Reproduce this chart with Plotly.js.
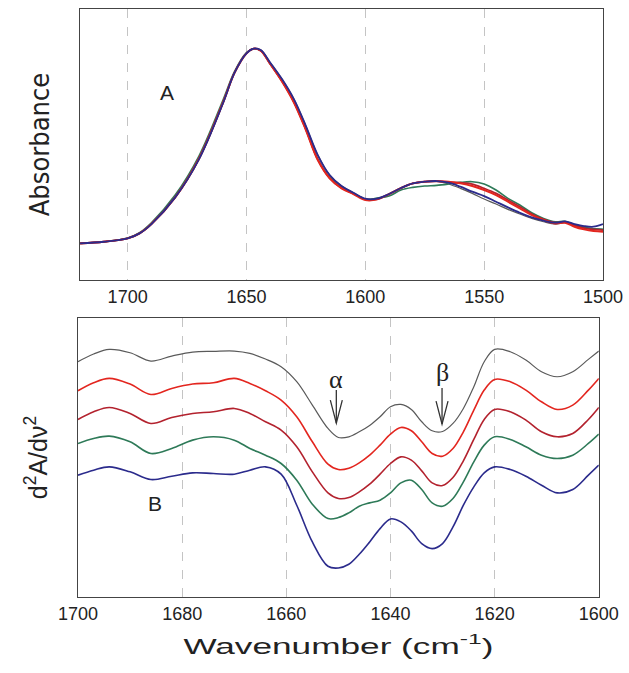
<!DOCTYPE html>
<html>
<head>
<meta charset="utf-8">
<script src="https://cdn.plot.ly/plotly-3.0.1.min.js"></script>
<style>
html,body{margin:0;padding:0;background:#fff;}
#chart{width:629px;height:673px;}
#chart .x2title{transform-box:fill-box;transform-origin:50% 50%;transform:scaleX(1.6);}
</style>
</head>
<body>
<div id="chart"></div>
<script>
// ---- Panel A: absorbance spectra (arbitrary units) ----
var wavenumberA = [1720,1710,1700,1695,1690,1680,1670,1660,1655,1650,1647,1644,1640,1635,1630,1625,1620,1615,1610,1605,1600,1595,1590,1585,1580,1575,1570,1565,1560,1555,1550,1545,1540,1535,1530,1525,1520,1516,1512,1508,1504,1500];
var absGray    = [1.10,1.15,1.25,1.40,1.68,2.48,3.62,5.28,6.22,6.80,6.94,6.90,6.52,6.02,5.42,4.62,3.75,3.15,2.82,2.62,2.44,2.44,2.58,2.76,2.90,2.95,2.97,2.88,2.75,2.60,2.43,2.28,2.12,1.98,1.85,1.75,1.68,1.72,1.64,1.58,1.54,1.52];
var absRed     = [1.10,1.15,1.25,1.40,1.68,2.48,3.64,5.30,6.22,6.80,6.94,6.88,6.48,5.95,5.32,4.50,3.60,3.05,2.75,2.58,2.40,2.42,2.58,2.76,2.90,2.95,2.97,2.95,2.90,2.82,2.70,2.55,2.35,2.15,1.95,1.80,1.70,1.72,1.60,1.52,1.47,1.45];
var absDarkRed = [1.10,1.15,1.25,1.40,1.68,2.48,3.64,5.30,6.22,6.80,6.94,6.88,6.48,5.96,5.34,4.52,3.62,3.06,2.76,2.59,2.42,2.43,2.58,2.76,2.90,2.95,2.96,2.93,2.92,2.88,2.75,2.60,2.40,2.20,1.98,1.82,1.72,1.74,1.64,1.56,1.52,1.50];
var absGreen   = [1.10,1.15,1.26,1.42,1.72,2.55,3.72,5.38,6.26,6.82,6.94,6.88,6.48,5.96,5.34,4.52,3.62,3.08,2.78,2.60,2.42,2.46,2.52,2.70,2.78,2.82,2.84,2.88,2.93,2.95,2.88,2.70,2.45,2.25,2.02,1.85,1.75,1.76,1.66,1.58,1.54,1.52];
var absBlue    = [1.10,1.15,1.25,1.40,1.68,2.48,3.62,5.28,6.22,6.80,6.94,6.90,6.52,6.02,5.42,4.62,3.75,3.15,2.82,2.62,2.44,2.44,2.58,2.76,2.90,2.95,2.97,2.92,2.80,2.65,2.52,2.35,2.18,2.02,1.88,1.78,1.72,1.76,1.68,1.62,1.60,1.68];

// ---- Panel B: second-derivative spectra (offset, arbitrary units) ----
var wavenumberB = [1700,1697,1694,1690,1686,1682,1678,1674,1670,1667,1664,1661,1658,1655,1652,1650,1648,1646,1644,1642,1640,1638,1636,1634,1632,1630,1628,1626,1624,1622,1620,1617,1614,1611,1608,1605,1602,1600];
var d2Gray    = [7.05,7.28,7.42,7.32,7.07,7.22,7.34,7.36,7.37,7.30,7.13,6.90,6.45,5.75,5.05,4.78,4.80,4.95,5.14,5.40,5.70,5.77,5.62,5.25,4.98,4.96,5.20,5.65,6.30,7.05,7.42,7.35,7.10,6.75,6.60,6.75,7.12,7.37];
var d2Red     = [6.18,6.42,6.55,6.38,6.07,6.25,6.38,6.42,6.55,6.40,6.18,5.90,5.40,4.65,3.98,3.82,3.86,4.02,4.25,4.55,4.88,5.08,4.98,4.65,4.30,4.22,4.45,4.95,5.60,6.20,6.52,6.45,6.20,5.85,5.62,5.75,6.20,6.55];
var d2DarkRed = [5.32,5.55,5.68,5.50,5.20,5.38,5.50,5.55,5.65,5.50,5.25,5.00,4.50,3.75,3.12,2.95,2.98,3.15,3.38,3.68,4.00,4.20,4.10,3.78,3.42,3.34,3.58,4.08,4.72,5.32,5.62,5.55,5.30,4.95,4.80,4.90,5.32,5.68];
var d2Green   = [4.60,4.75,4.82,4.65,4.30,4.45,4.70,4.80,4.70,4.45,4.25,4.00,3.50,2.78,2.35,2.38,2.52,2.72,2.82,2.90,3.12,3.42,3.50,3.22,2.82,2.72,2.95,3.45,4.05,4.55,4.80,4.72,4.50,4.25,4.15,4.25,4.60,4.88];
var d2Blue    = [3.65,3.80,3.90,3.75,3.52,3.62,3.72,3.70,3.68,3.80,3.90,3.68,2.75,1.65,0.92,0.87,0.98,1.28,1.65,2.05,2.34,2.25,1.98,1.60,1.45,1.60,2.10,2.75,3.30,3.72,3.90,3.82,3.62,3.35,3.12,3.22,3.65,3.95];

var ticksA = [1700,1650,1600,1550,1500];
var ticksB = [1700,1680,1660,1640,1620,1600];

// arrows: wavenumber, label, shaft top, tip, label height
var markers = [
  {x:1650.4, label:'α', top:6.20, tip:5.21, ly:6.52},
  {x:1630.1, label:'β', top:6.26, tip:5.18, ly:6.74}
];

var colors = {gray:'#5a5a5a', red:'#e3261f', darkred:'#b3222e', green:'#2e7a58', blue:'#2b2b8c'};

function hasFont(name){
  var c = document.createElement('canvas').getContext('2d');
  var t = 'Absorbance mmmWWiil 1234';
  c.font = '40px monospace'; var w1 = c.measureText(t).width;
  c.font = '40px "' + name + '", monospace'; var w2 = c.measureText(t).width;
  return Math.abs(w1 - w2) > 0.5;
}
var narrowCandidates = ['Liberation Sans Narrow','DejaVu Sans Condensed','Arial Narrow'];
var narrow = null;
for (var i = 0; i < narrowCandidates.length; i++){ if (hasFont(narrowCandidates[i])) { narrow = narrowCandidates[i]; break; } }
var absTitleFont = narrow ? {family:'"' + narrow + '", Liberation Sans, Arial, sans-serif', size:27, color:'#222'}
                          : {family:'Liberation Sans, Arial, sans-serif', size:25, color:'#222'};

function tr(x, y, color, w, xa, ya){
  return {x:x, y:y, type:'scatter', mode:'lines', xaxis:xa, yaxis:ya,
    line:{color:color, width:w, shape:'spline', smoothing:1.0}, hoverinfo:'skip', showlegend:false};
}

var data = [
  tr(wavenumberA, absGray, colors.gray, 1.2, 'x', 'y'),
  tr(wavenumberA, absGreen, colors.green, 1.6, 'x', 'y'),
  tr(wavenumberA, absDarkRed, colors.darkred, 1.8, 'x', 'y'),
  tr(wavenumberA, absRed, colors.red, 2.0, 'x', 'y'),
  tr(wavenumberA, absBlue, colors.blue, 1.8, 'x', 'y'),
  tr(wavenumberB, d2Gray, colors.gray, 1.2, 'x2', 'y2'),
  tr(wavenumberB, d2Red, colors.red, 1.6, 'x2', 'y2'),
  tr(wavenumberB, d2DarkRed, colors.darkred, 1.6, 'x2', 'y2'),
  tr(wavenumberB, d2Green, colors.green, 1.6, 'x2', 'y2'),
  tr(wavenumberB, d2Blue, colors.blue, 1.6, 'x2', 'y2')
];

var tickFont = {family:'Liberation Sans, Arial, sans-serif', size:18, color:'#222'};
var axisCommon = {showline:true, mirror:true, linecolor:'#444', linewidth:1.3, ticks:'',
  showgrid:true, gridcolor:'#c4c4c4', gridwidth:1, griddash:'dash', zeroline:false,
  tickfont:tickFont, fixedrange:true};
var yCommon = {showline:true, mirror:true, linecolor:'#444', linewidth:1.3, ticks:'',
  showgrid:false, zeroline:false, showticklabels:false, fixedrange:true};

var shapes = [];
markers.forEach(function(m){
  shapes.push({type:'line', xref:'x2', yref:'y2', x0:m.x, x1:m.x, y0:m.top, y1:m.tip, line:{color:'#333', width:1.3}});
  shapes.push({type:'path', xref:'x2', yref:'y2',
    path:'M'+(m.x+1.15)+','+(m.tip+0.69)+' L'+m.x+','+m.tip+' L'+(m.x-1.15)+','+(m.tip+0.69),
    line:{color:'#333', width:1.3}});
});

var annotations = [
  {xref:'x', yref:'y', x:1683.3, y:5.64, text:'A', showarrow:false, font:{family:'Liberation Sans, Arial, sans-serif', size:21, color:'#222'}},
  {xref:'x2', yref:'y2', x:1685.2, y:2.81, text:'B', showarrow:false, font:{family:'Liberation Sans, Arial, sans-serif', size:21, color:'#222'}}
];
markers.forEach(function(m){
  annotations.push({xref:'x2', yref:'y2', x:m.x, y:m.ly, text:m.label, showarrow:false,
    font:{family:'Liberation Serif, Times New Roman, serif', size:26, color:'#222'}});
});

var layout = {
  width:629, height:673,
  margin:{l:78, r:26, t:9, b:76},
  paper_bgcolor:'#fff', plot_bgcolor:'#fff',
  showlegend:false,
  xaxis: Object.assign({}, axisCommon, {domain:[0.004,1], range:[1720,1500], tickvals:ticksA, anchor:'y'}),
  yaxis: Object.assign({}, yCommon, {domain:[0.539,1], range:[0,8.13], anchor:'x',
    title:{text:'Absorbance', standoff:21, font:absTitleFont}}),
  xaxis2: Object.assign({}, axisCommon, {domain:[0,0.992], range:[1700,1600], tickvals:ticksB, anchor:'y2',
    title:{text:'Wavenumber (cm<sup>-1</sup>)', standoff:15, font:{family:'Liberation Sans, Arial, sans-serif', size:22, color:'#222'}}}),
  yaxis2: Object.assign({}, yCommon, {domain:[0,0.4745], range:[0,8.36], anchor:'x2',
    title:{text:'d<sup>2</sup>A/dν<sup>2</sup>', standoff:22, font:{family:'Liberation Sans, Arial, sans-serif', size:25, color:'#222'}}}),
  shapes:shapes,
  annotations:annotations
};

Plotly.newPlot('chart', data, layout, {displayModeBar:false, staticPlot:true});
</script>
</body>
</html>
